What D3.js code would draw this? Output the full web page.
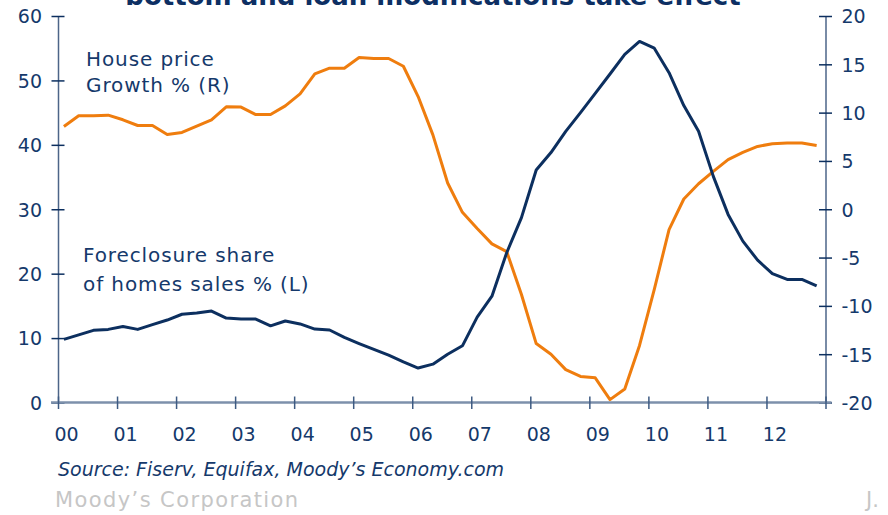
<!DOCTYPE html>
<html>
<head>
<meta charset="utf-8">
<script src="https://cdn.jsdelivr.net/npm/d3@7"></script>
<style>
  body { margin: 0; background: #fff; }
  svg { display: block; font-family: "DejaVu Sans", Verdana, sans-serif; }
</style>
</head>
<body>
<script>
// 画布大小
const width = 888;
const height = 515;

// 季度数据 2000Q1 - 2012Q4
const startYear = 2000;
const yearTicks = d3.range(2000, 2014);
const yearLabels = ['00', '01', '02', '03', '04', '05', '06', '07', '08', '09', '10', '11', '12'];
const leftTicks = [0, 10, 20, 30, 40, 50, 60];
const rightTicks = [-20, -15, -10, -5, 0, 5, 10, 15, 20];

// Foreclosure share of home sales % (L)
const foreclosure = [
  9.8, 10.5, 11.2, 11.35, 11.8, 11.35, 12.1, 12.8, 13.7, 13.9,
  14.2, 13.1, 12.95, 12.95, 11.9, 12.65, 12.2, 11.4, 11.25, 10.1,
  9.15, 8.25, 7.35, 6.3, 5.35, 5.95, 7.5, 8.8, 13.25, 16.5,
  23.25, 28.7, 36.1, 38.8, 42.1, 45.0, 48.0, 51.0, 54.05, 56.05,
  55.0, 51.2, 46.1, 42.1, 35.1, 29.2, 25.05, 22.1, 20.0, 19.1,
  19.1, 18.1
];

// House price growth % (R)
const housePrice = [
  8.56, 9.67, 9.67, 9.74, 9.26, 8.67, 8.67, 7.74, 7.95, 8.6,
  9.26, 10.6, 10.57, 9.8, 9.8, 10.7, 11.94, 14.0, 14.6, 14.6,
  15.7, 15.6, 15.6, 14.8, 11.66, 7.7, 2.72, -0.32, -2.0, -3.58,
  -4.38, -8.82, -13.9, -15.0, -16.6, -17.3, -17.45, -19.7, -18.6, -14.1,
  -8.3, -2.1, 1.06, 2.64, 3.92, 5.13, 5.88, 6.5, 6.78, 6.85,
  6.85, 6.6
];

const navy = '#0c2f5f';
const textNavy = '#15396b';
const orange = '#ef7d0e';

const svg = d3.select('body')
  .append('svg')
  .attr('width', width)
  .attr('height', height);

// 比例尺
const x = d3.scaleLinear().domain([2000, 2013]).range([58, 825.5]);
const yL = d3.scaleLinear().domain([0, 60]).range([402.5, 16]);
const yR = d3.scaleLinear().domain([-20, 20]).range([402.5, 16]);

const dateOf = (d, i) => startYear + i / 4 + 0.1;

// 标题（上半部分被裁掉）
svg.append('text')
  .attr('x', 433)
  .attr('y', 5)
  .attr('text-anchor', 'middle')
  .attr('font-weight', 'bold')
  .attr('font-size', 26)
  .attr('fill', '#0d2f63')
  .text('bottom and loan modifications take effect');

// 左轴
const gLeft = svg.append('g')
  .attr('transform', 'translate(' + x.range()[0] + ',0)')
  .call(d3.axisLeft(yL).tickValues(leftTicks).tickSizeOuter(0));

// 右轴（普通连字符做负号）
const gRight = svg.append('g')
  .attr('transform', 'translate(' + x.range()[1] + ',0)')
  .call(d3.axisRight(yR).tickValues(rightTicks).tickSizeOuter(0)
    .tickFormat(d => String(d)));

// 底轴
const gBottom = svg.append('g')
  .attr('transform', 'translate(0,' + yL.range()[0] + ')')
  .call(d3.axisBottom(x)
    .tickValues(yearTicks)
    .tickSizeOuter(0)
    .tickFormat((d, i) => yearLabels[i] || ''));

[gLeft, gRight].forEach(g => {
  g.select('.domain').attr('stroke', '#4d6588').attr('stroke-width', 1.5);
  g.selectAll('.tick line').attr('stroke', navy).attr('stroke-width', 1.5);
  g.selectAll('.tick text')
    .attr('font-family', '"DejaVu Sans", Verdana, sans-serif')
    .attr('font-size', 19)
    .attr('fill', textNavy);
});
gLeft.selectAll('.tick line').attr('x1', -6.5).attr('x2', 6.5);
gLeft.selectAll('.tick text').attr('x', -16).attr('dy', '0.36em');
gRight.selectAll('.tick line').attr('x1', -6.5).attr('x2', 6.5);
gRight.selectAll('.tick text').attr('x', 16).attr('dy', '0.36em');

gBottom.select('.domain')
  .attr('stroke', '#7d90ab')
  .attr('stroke-width', 2.5)
  .attr('d', 'M' + (x.range()[0] - 7) + ',0H' + (x.range()[1] + 6));
gBottom.selectAll('.tick line')
  .attr('stroke', '#3d5a82')
  .attr('stroke-width', 1.5)
  .attr('y1', -6)
  .attr('y2', 6.5);
gBottom.selectAll('.tick text')
  .attr('font-family', '"DejaVu Sans", Verdana, sans-serif')
  .attr('font-size', 19)
  .attr('fill', textNavy)
  .attr('x', 8)
  .attr('y', 38)
  .attr('dy', 0);

// 折线
const lineL = d3.line().x((d, i) => x(dateOf(d, i))).y(d => yL(d));
const lineR = d3.line().x((d, i) => x(dateOf(d, i))).y(d => yR(d));

svg.append('path')
  .datum(housePrice)
  .attr('fill', 'none')
  .attr('stroke', orange)
  .attr('stroke-width', 3)
  .attr('stroke-linejoin', 'round')
  .attr('d', lineR);

svg.append('path')
  .datum(foreclosure)
  .attr('fill', 'none')
  .attr('stroke', navy)
  .attr('stroke-width', 3)
  .attr('stroke-linejoin', 'round')
  .attr('d', lineL);

// 注释文字
const notes = [
  { t: 'House price', x: 86, y: 66 },
  { t: 'Growth % (R)', x: 86, y: 92 },
  { t: 'Foreclosure share', x: 83, y: 262 },
  { t: 'of homes sales % (L)', x: 83, y: 291 }
];
svg.selectAll('.note')
  .data(notes)
  .enter()
  .append('text')
  .attr('class', 'note')
  .attr('x', d => d.x)
  .attr('y', d => d.y)
  .attr('font-size', 20)
  .attr('letter-spacing', 0.9)
  .attr('fill', textNavy)
  .text(d => d.t);

// 来源
svg.append('text')
  .attr('x', 58)
  .attr('y', 476)
  .attr('font-size', 19)
  .attr('font-style', 'italic')
  .attr('fill', textNavy)
  .text('Source: Fiserv, Equifax, Moody’s Economy.com');

svg.append('text')
  .attr('x', 55)
  .attr('y', 507)
  .attr('font-size', 21)
  .attr('letter-spacing', 1.4)
  .attr('fill', '#c6c6c6')
  .text('Moody’s Corporation');

svg.append('text')
  .attr('x', 866)
  .attr('y', 507)
  .attr('font-size', 21)
  .attr('fill', '#c6c6c6')
  .text('J.');
</script>
</body>
</html>
